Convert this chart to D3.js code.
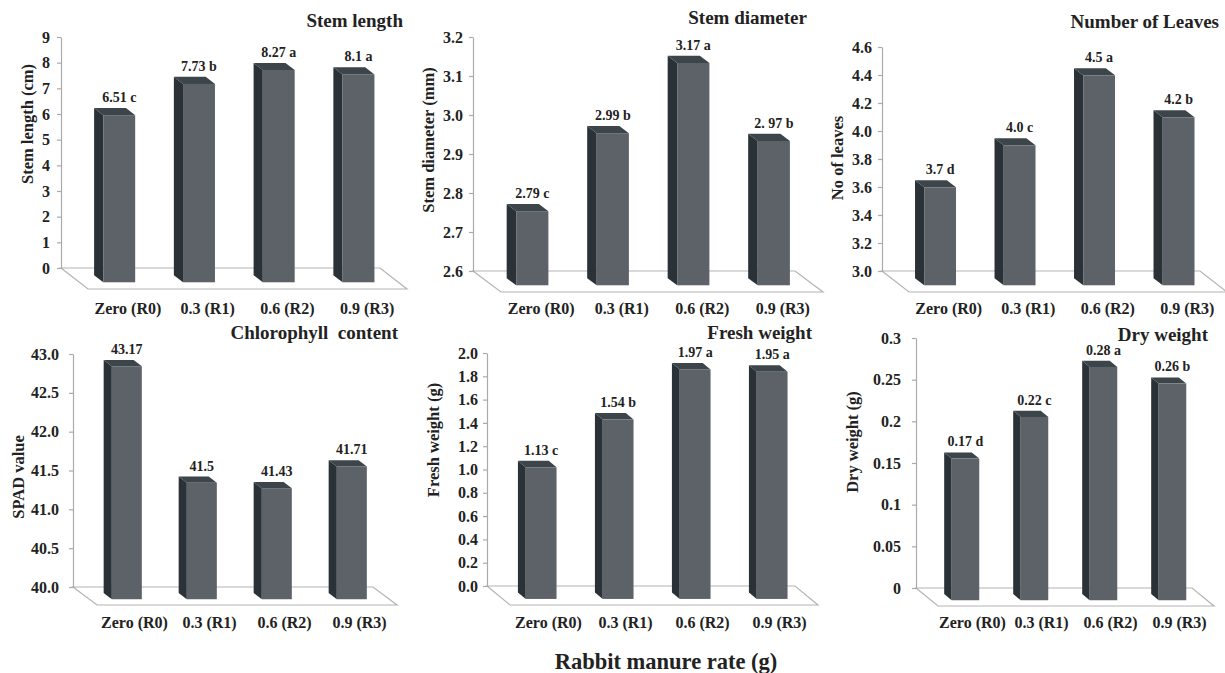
<html>
<head>
<meta charset="utf-8">
<script src="https://d3js.org/d3.v7.min.js"></script>
<style>
  body { margin: 0; background: #fff; }
  text { font-family: "Liberation Serif", "Times New Roman", serif; font-weight: bold; fill: #222; }
</style>
</head>
<body>
<svg width="1225" height="673"></svg>
<script>
// categories shared by all six panels
var categories = ["Zero (R0)", "0.3 (R1)", "0.6 (R2)", "0.9 (R3)"];

var stemLength = [6.51, 7.73, 8.27, 8.1];
var stemLengthText = ["6.51 c", "7.73 b", "8.27 a", "8.1 a"];
var stemLengthTicks = [0, 1, 2, 3, 4, 5, 6, 7, 8, 9];

var stemDiameter = [2.79, 2.99, 3.17, 2.97];
var stemDiameterText = ["2.79 c", "2.99 b", "3.17 a", "2. 97 b"];
var stemDiameterTicks = [2.6, 2.7, 2.8, 2.9, 3.0, 3.1, 3.2];

var leaves = [3.7, 4.0, 4.5, 4.2];
var leavesText = ["3.7 d", "4.0 c", "4.5 a", "4.2 b"];
var leavesTicks = [3.0, 3.2, 3.4, 3.6, 3.8, 4.0, 4.2, 4.4, 4.6];

var spad = [43.17, 41.5, 41.43, 41.71];
var spadText = ["43.17", "41.5", "41.43", "41.71"];
var spadTicks = [40.0, 40.5, 41.0, 41.5, 42.0, 42.5, 43.0];

var freshWeight = [1.13, 1.54, 1.97, 1.95];
var freshWeightText = ["1.13 c", "1.54 b", "1.97 a", "1.95 a"];
var freshWeightTicks = [0.0, 0.2, 0.4, 0.6, 0.8, 1.0, 1.2, 1.4, 1.6, 1.8, 2.0];

var dryWeight = [0.17, 0.22, 0.28, 0.26];
var dryWeightText = ["0.17 d", "0.22 c", "0.28 a", "0.26 b"];
var dryWeightTicks = [0, 0.05, 0.1, 0.15, 0.2, 0.25, 0.3];

var svg = d3.select("svg");

// panel layout: axis x, back-wall right end, pixel y of first/last tick, floor depth
var panels = [
  {title: "Stem length", ylab: "Stem length (cm)", vals: stemLength, txt: stemLengthText, ticks: stemLengthTicks, fmt: d3.format("d"),
   x0: 61, x1: 380, yTop: 37, yBot: 268, dx: 27, dy: 21, tx: 403, ty: 27, lx: 27, ly: 124, gap: 11, catY: 314},
  {title: "Stem diameter", ylab: "Stem diameter (mm)", vals: stemDiameter, txt: stemDiameterText, ticks: stemDiameterTicks, fmt: d3.format(".1f"),
   x0: 473, x1: 795, yTop: 37, yBot: 271, dx: 28, dy: 21, tx: 807, ty: 24, lx: 428, ly: 140, gap: 10, catY: 314},
  {title: "Number of Leaves", ylab: "No of leaves", vals: leaves, txt: leavesText, ticks: leavesTicks, fmt: d3.format(".1f"),
   x0: 882, x1: 1200, yTop: 47, yBot: 271, dx: 27, dy: 21, tx: 1219, ty: 28, lx: 837, ly: 158, gap: 10, catY: 314},
  {title: "Chlorophyll  content", ylab: "SPAD value", vals: spad, txt: spadText, ticks: spadTicks, fmt: d3.format(".1f"),
   x0: 73, x1: 373, yTop: 354, yBot: 587, dx: 24, dy: 18, tx: 398, ty: 339, lx: 18, ly: 477, gap: 14, catY: 628},
  {title: "Fresh weight", ylab: "Fresh weight (g)", vals: freshWeight, txt: freshWeightText, ticks: freshWeightTicks, fmt: d3.format(".1f"),
   x0: 487, x1: 795, yTop: 353, yBot: 586, dx: 23, dy: 19, tx: 812, ty: 339, lx: 433, ly: 440, gap: 9, catY: 628},
  {title: "Dry weight", ylab: "Dry weight (g)", vals: dryWeight, txt: dryWeightText, ticks: dryWeightTicks, fmt: function (d) { return String(+d.toFixed(2)); },
   x0: 916, x1: 1192, yTop: 338, yBot: 588, dx: 22, dy: 18, tx: 1208, ty: 341, lx: 852, ly: 442, gap: 15, catY: 628}
];

var f0 = 0.34, f1 = 0.68;   // bar depth inside the floor

panels.forEach(function (p) {
  var g = svg.append("g");
  var lo = p.ticks[0], hi = p.ticks[p.ticks.length - 1];

  var x = d3.scaleBand().domain(categories).range([p.x0, p.x1]);
  var y = d3.scaleLinear().domain([lo, hi]).range([p.yBot, p.yTop]);
  var w = x.bandwidth() * 0.4;

  // floor
  g.append("path")
    .attr("d", "M" + p.x0 + "," + p.yBot + "L" + p.x1 + "," + p.yBot + "L" + (p.x1 + p.dx) + "," + (p.yBot + p.dy) +
      "L" + (p.x0 + p.dx) + "," + (p.yBot + p.dy) + "Z")
    .attr("fill", "#fff").attr("stroke", "#b4b4b4").attr("stroke-width", 1.2);

  // y axis
  var ax = g.append("g")
    .attr("transform", "translate(" + p.x0 + ",0)")
    .call(d3.axisLeft(y).tickValues(p.ticks).tickFormat(p.fmt).tickSize(4).tickSizeOuter(0).tickPadding(p.gap - 4));
  ax.selectAll("path, line").attr("stroke", "#aaa").attr("stroke-width", 1.2);
  ax.selectAll("text").attr("font-size", 16).attr("fill", "#222");

  // bars
  var bars = g.selectAll(".bar").data(p.vals).enter().append("g");
  bars.each(function (v, i) {
    var b = d3.select(this);
    var vv = Math.min(v, hi);
    var xl = x(categories[i]) + (x.bandwidth() - w) / 2;
    var yt = y(vv), y0 = y(lo);
    var ax0 = xl + f0 * p.dx, ay0 = f0 * p.dy;
    var ax1 = xl + f1 * p.dx, ay1 = f1 * p.dy;
    // side
    b.append("path")
      .attr("d", "M" + ax0 + "," + (yt + ay0) + "L" + ax1 + "," + (yt + ay1) + "L" + ax1 + "," + (y0 + ay1) + "L" + ax0 + "," + (y0 + ay0) + "Z")
      .attr("fill", "#2a3237");
    // top
    b.append("path")
      .attr("d", "M" + ax0 + "," + (yt + ay0) + "L" + (ax0 + w) + "," + (yt + ay0) + "L" + (ax1 + w) + "," + (yt + ay1) + "L" + ax1 + "," + (yt + ay1) + "Z")
      .attr("fill", "#3c4549");
    // front
    b.append("rect")
      .attr("x", ax1).attr("y", yt + ay1).attr("width", w).attr("height", y0 - yt)
      .attr("fill", "#5c6268");
    // value label
    b.append("text")
      .attr("x", ax1 + w / 2).attr("y", yt + ay0 - 6)
      .attr("text-anchor", "middle").attr("font-size", 14)
      .text(p.txt[i]);
  });

  // category labels on the floor front
  g.selectAll(".cat").data(categories).enter().append("text")
    .attr("x", function (d) { return x(d) + x.bandwidth() / 2 + p.dx; })
    .attr("y", p.catY)
    .attr("text-anchor", "middle").attr("font-size", 16)
    .text(function (d) { return d; });

  // title
  g.append("text").attr("x", p.tx).attr("y", p.ty).attr("text-anchor", "end")
    .attr("font-size", 19).style("white-space", "pre").text(p.title);

  // y label
  g.append("text")
    .attr("transform", "translate(" + p.lx + "," + p.ly + ") rotate(-90)")
    .attr("text-anchor", "middle").attr("dy", "0.35em").attr("font-size", 16.5)
    .text(p.ylab);
});

svg.append("text").attr("x", 666).attr("y", 669).attr("text-anchor", "middle")
  .attr("font-size", 22.5).text("Rabbit manure rate (g)");
</script>
</body>
</html>
